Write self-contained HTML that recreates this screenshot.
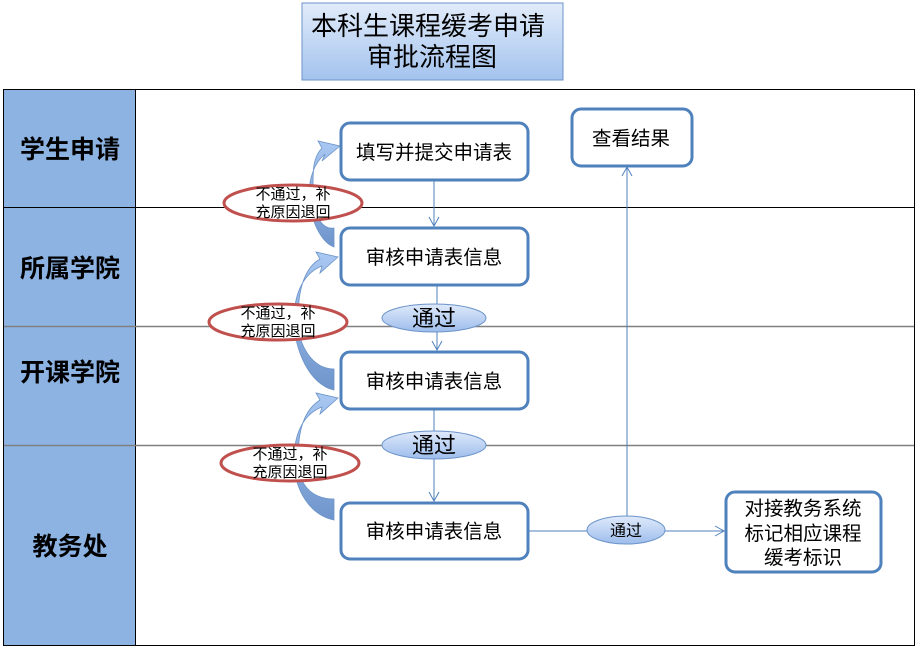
<!DOCTYPE html>
<html><head><meta charset="utf-8"><style>
body{margin:0;background:#fff;width:918px;height:647px;overflow:hidden}
svg text{font-family:"Liberation Sans","Noto Sans CJK SC",sans-serif;fill:#000}
</style></head><body>
<svg width="918" height="647" viewBox="0 0 918 647" xmlns="http://www.w3.org/2000/svg">
<defs>
<linearGradient id="tg" x1="0" y1="0" x2="0" y2="1"><stop offset="0" stop-color="#e2ecfa"/><stop offset="1" stop-color="#a3c3ee"/></linearGradient>
<linearGradient id="eg" x1="0" y1="0" x2="0" y2="1"><stop offset="0" stop-color="#dfeafb"/><stop offset="1" stop-color="#9dbdec"/></linearGradient>
<linearGradient id="ag" x1="0" y1="0" x2="0" y2="1"><stop offset="0" stop-color="#a9c8f2"/><stop offset="1" stop-color="#6f95cc"/></linearGradient>
<marker id="ar" markerWidth="12" markerHeight="12" refX="10" refY="6" orient="auto" markerUnits="userSpaceOnUse"><path d="M1,1 L10,6 L1,11" fill="none" stroke="#4f81bd" stroke-width="1"/></marker>
</defs>
<rect x="302" y="3" width="261" height="77" fill="url(#tg)" stroke="#6b93c9" stroke-width="1"/>
<text x="428" y="35" font-size="26" text-anchor="middle">本科生课程缓考申请</text>
<text x="432" y="66" font-size="26" text-anchor="middle">审批流程图</text>
<rect x="3.5" y="89.5" width="911" height="556" fill="#fff" stroke="#000" stroke-width="1"/>
<rect x="4" y="90" width="131" height="555" fill="#8db3e2"/>
<line x1="135.5" y1="89" x2="135.5" y2="646" stroke="#000"/>
<line x1="4" y1="207.5" x2="914" y2="207.5" stroke="#000"/>
<line x1="4" y1="326.5" x2="914" y2="326.5" stroke="#808080" stroke-width="1.5"/>
<line x1="4" y1="445.5" x2="914" y2="445.5" stroke="#808080" stroke-width="1.5"/>
<g font-size="25" font-weight="bold" text-anchor="middle">
<text x="70" y="158">学生申请</text>
<text x="70" y="277">所属学院</text>
<text x="70" y="381">开课学院</text>
<text x="70" y="555">教务处</text>
</g>
<g stroke="#4f81bd" stroke-width="1" fill="none">
<line x1="434" y1="180" x2="434" y2="226" marker-end="url(#ar)"/>
<line x1="437" y1="285" x2="437" y2="350" marker-end="url(#ar)"/>
<line x1="434" y1="409" x2="434" y2="501" marker-end="url(#ar)"/>
<line x1="529" y1="531" x2="724" y2="531" marker-end="url(#ar)"/>
<line x1="627" y1="517" x2="627" y2="167" marker-end="url(#ar)"/>
</g>
<g fill="url(#ag)" stroke="#6b93c9" stroke-width="0.8">
<path d="M334,247 C320,242 309,216 309,196 C309,172 318,160 325,154 L322,161 L340,146 L318,141 L322,148 C312,158 313,172 313,196 C313,214 322,230 334,228 Z"/>
<path d="M334,390 C310,385 294,350 294,320 C294,290 306,272 322,266 L320,273 L338,257 L316,252 L320,259 C304,268 298,290 298,320 C298,345 312,369 334,369 Z"/>
<path d="M334,520 C310,515 294,490 294,460 C294,430 306,413 322,407 L320,414 L338,398 L316,393 L320,400 C304,410 298,430 298,460 C298,485 312,499 334,499 Z"/>
</g>
<g fill="#fff" stroke="#4f81bd" stroke-width="3">
<rect x="341" y="123" width="187" height="57" rx="9"/>
<rect x="341" y="228" width="187" height="57" rx="9"/>
<rect x="341" y="352" width="187" height="57" rx="9"/>
<rect x="341" y="503" width="187" height="56" rx="9"/>
<rect x="572" y="109" width="120" height="57" rx="9"/>
<rect x="726" y="492" width="155" height="80" rx="9"/>
</g>
<g font-size="19.5" text-anchor="middle">
<text x="434" y="159">填写并提交申请表</text>
<text x="434" y="264">审核申请表信息</text>
<text x="434" y="388">审核申请表信息</text>
<text x="434" y="538">审核申请表信息</text>
<text x="631" y="145">查看结果</text>
<text x="803" y="515">对接教务系统</text>
<text x="803" y="540">标记相应课程</text>
<text x="803" y="564">缓考标识</text>
</g>
<g fill="url(#eg)" stroke="#6b93c9" stroke-width="1">
<ellipse cx="434" cy="318" rx="52" ry="14"/>
<ellipse cx="434" cy="445" rx="52" ry="14"/>
<ellipse cx="626" cy="530" rx="39" ry="14"/>
</g>
<text x="434" y="326" font-size="22" text-anchor="middle">通过</text>
<text x="434" y="453" font-size="22" text-anchor="middle">通过</text>
<text x="626" y="536" font-size="16" text-anchor="middle">通过</text>
<g fill="#fff" stroke="#c0504d" stroke-width="3">
<ellipse cx="293" cy="203" rx="69" ry="18"/>
<ellipse cx="278" cy="322" rx="69" ry="18"/>
<ellipse cx="290" cy="463" rx="69" ry="18"/>
</g>
<g font-size="15" text-anchor="middle">
<text x="293" y="199">不通过，补</text><text x="293" y="217">充原因退回</text>
<text x="278" y="318">不通过，补</text><text x="278" y="336">充原因退回</text>
<text x="290" y="459">不通过，补</text><text x="290" y="477">充原因退回</text>
</g>
</svg>
</body></html>
